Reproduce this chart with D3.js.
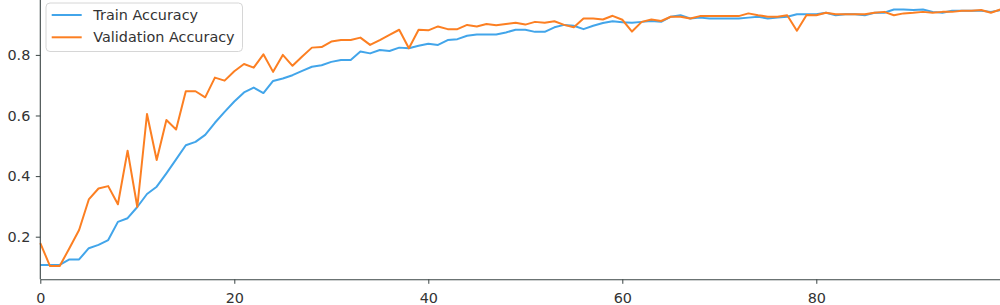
<!DOCTYPE html>
<html>
<head>
<meta charset="utf-8">
<script src="https://cdn.jsdelivr.net/npm/d3@7"></script>
<style>
  body { margin: 0; background: #ffffff; }
  svg { display: block; }
</style>
</head>
<body>
<script>
var epochs = d3.range(0, 100);

var trainAcc = [
  0.107, 0.107, 0.107, 0.125, 0.125, 0.162, 0.173, 0.189, 0.249, 0.261,
  0.298, 0.341, 0.365, 0.409, 0.455, 0.502, 0.513, 0.536, 0.576, 0.612,
  0.646, 0.676, 0.692, 0.674, 0.714, 0.722, 0.733, 0.747, 0.761, 0.766,
  0.777, 0.783, 0.783, 0.811, 0.805, 0.816, 0.813, 0.824, 0.822, 0.830,
  0.837, 0.833, 0.849, 0.852, 0.863, 0.867, 0.867, 0.867, 0.874, 0.883,
  0.883, 0.876, 0.876, 0.891, 0.899, 0.896, 0.885, 0.896, 0.905, 0.911,
  0.908, 0.906, 0.909, 0.912, 0.909, 0.926, 0.931, 0.920, 0.923, 0.920,
  0.920, 0.920, 0.920, 0.923, 0.926, 0.920, 0.923, 0.926, 0.934, 0.934,
  0.934, 0.939, 0.931, 0.934, 0.934, 0.931, 0.939, 0.939, 0.950, 0.950,
  0.948, 0.950, 0.942, 0.939, 0.946, 0.946, 0.946, 0.946, 0.942, 0.948
];

var valAcc = [
  0.179, 0.103, 0.103, 0.162, 0.222, 0.323, 0.359, 0.367, 0.307, 0.484,
  0.298, 0.605, 0.453, 0.585, 0.554, 0.680, 0.680, 0.660, 0.725, 0.715,
  0.746, 0.770, 0.758, 0.802, 0.744, 0.800, 0.764, 0.795, 0.824, 0.826,
  0.844, 0.849, 0.849, 0.857, 0.833, 0.849, 0.866, 0.883, 0.822, 0.883,
  0.881, 0.894, 0.885, 0.885, 0.899, 0.894, 0.902, 0.898, 0.902, 0.906,
  0.900, 0.909, 0.906, 0.911, 0.899, 0.891, 0.920, 0.920, 0.917, 0.929,
  0.916, 0.877, 0.909, 0.917, 0.912, 0.926, 0.926, 0.920, 0.928, 0.928,
  0.928, 0.928, 0.928, 0.937, 0.931, 0.926, 0.926, 0.931, 0.880, 0.932,
  0.931, 0.939, 0.934, 0.934, 0.934, 0.934, 0.939, 0.942, 0.931, 0.937,
  0.939, 0.942, 0.939, 0.942, 0.942, 0.946, 0.946, 0.948, 0.939, 0.950
];

var xTicks = [0, 20, 40, 60, 80];
var yTicks = [0.2, 0.4, 0.6, 0.8];
var seriesNames = ["Train Accuracy", "Validation Accuracy"];
var seriesColors = ["#42a5ea", "#fc7f22"];

var width = 1000;
var height = 305;
var axisY = 279.3;

var svg = d3.select("body").append("svg")
  .attr("width", width)
  .attr("height", height);

// the picture is a crop: top and right spines fall outside the window
var x = d3.scaleLinear().domain([0, 99]).range([40.3, 1000.6]);
var y = d3.scaleLinear().domain([0.0594, 0.998]).range([axisY, axisY - 0.9386 * 303]);

var line = d3.line()
  .x(function(d, i) { return x(epochs[i]); })
  .y(function(d) { return y(d); });

[trainAcc, valAcc].forEach(function(series, k) {
  svg.append("path")
    .datum(series)
    .attr("d", line)
    .attr("fill", "none")
    .attr("stroke", seriesColors[k])
    .attr("stroke-width", 2)
    .attr("stroke-linejoin", "round");
});

var xAxis = svg.append("g")
  .attr("transform", "translate(0," + axisY + ")")
  .call(d3.axisBottom(x).tickValues(xTicks).tickFormat(d3.format("d"))
    .tickSize(4.5).tickPadding(8.5).tickSizeOuter(0));

var yAxis = svg.append("g")
  .attr("transform", "translate(40.3,0)")
  .call(d3.axisLeft(y).tickValues(yTicks).tickFormat(d3.format(".1f"))
    .tickSize(4.5).tickPadding(5.5).tickSizeOuter(0));

[xAxis, yAxis].forEach(function(g) {
  g.select(".domain").attr("stroke", "#3a4444").attr("stroke-width", 1.1);
  g.selectAll(".tick line").attr("stroke", "#3a4444");
  g.selectAll(".tick text")
    .attr("fill", "#333333")
    .style("font-family", "DejaVu Sans")
    .style("font-size", "14.4px");
});
yAxis.select(".domain").attr("d", "M0," + axisY + "V0");

// legend
var legend = svg.append("g");
legend.append("rect")
  .attr("x", 46).attr("y", 3)
  .attr("width", 196.5).attr("height", 48.5)
  .attr("rx", 4)
  .attr("fill", "#ffffff").attr("fill-opacity", 0.85)
  .attr("stroke", "#d6d6d6");

seriesNames.forEach(function(name, i) {
  var ly = 15 + i * 22.3;
  legend.append("line")
    .attr("x1", 51.7).attr("x2", 81.7)
    .attr("y1", ly).attr("y2", ly)
    .attr("stroke", seriesColors[i])
    .attr("stroke-width", 2);
  legend.append("text")
    .text(name)
    .attr("x", 93.3)
    .attr("y", ly)
    .attr("dy", "0.36em")
    .attr("fill", "#333333")
    .style("font-family", "DejaVu Sans")
    .style("font-size", "14.4px");
});
</script>
</body>
</html>
